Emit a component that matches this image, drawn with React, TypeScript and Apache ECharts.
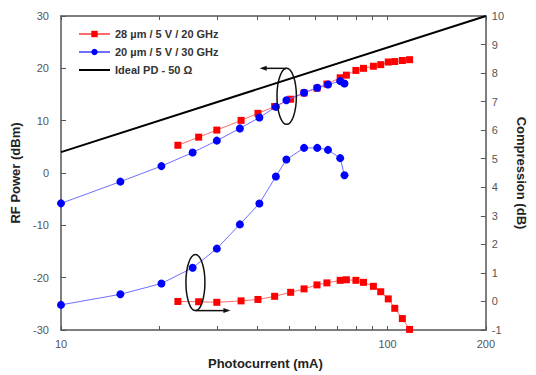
import React, { useEffect, useRef } from "react";
import * as echarts from "echarts";

const FONT = "'Liberation Sans', Arial, Helvetica, sans-serif";

// Photocurrent (mA)
const redX = [22.8, 26.4, 30.0, 35.6, 40.1, 45.1, 50.5, 55.5, 60.8, 65.2, 71.6, 74.8, 80.0, 84.4, 90.5, 95.3, 100.5, 105.2, 111.0, 116.8];
// RF power (dBm), 28 µm device
const redPower = [5.3, 6.85, 8.2, 10.05, 11.4, 12.7, 14.1, 15.3, 16.2, 17.0, 18.2, 18.7, 19.6, 20.0, 20.4, 20.7, 21.2, 21.3, 21.5, 21.65];
// Compression (dB), 28 µm device
const redComp = [0.0, -0.01, -0.03, 0.02, 0.07, 0.18, 0.32, 0.44, 0.58, 0.65, 0.74, 0.76, 0.74, 0.67, 0.53, 0.34, 0.09, -0.24, -0.6, -0.98];

const blueX = [10.0, 15.2, 20.3, 25.3, 30.0, 35.3, 40.5, 45.5, 49.0, 55.5, 60.9, 65.7, 71.6, 73.8];
const bluePower = [-5.8, -1.65, 1.32, 3.91, 6.18, 8.52, 10.6, 12.63, 13.9, 15.35, 16.3, 16.9, 17.55, 17.1];
const blueComp = [-0.12, 0.25, 0.63, 1.18, 1.85, 2.7, 3.43, 4.38, 4.97, 5.38, 5.38, 5.31, 5.02, 4.42];

const idealX = [10, 200];
const idealPower = [3.98, 30];

const xTicks = [10, 20, 30, 40, 50, 60, 70, 80, 90, 100, 200];
const xLabels = [10, 100, 200];

const NAME_RED = "28 µm / 5 V / 20 GHz";
const NAME_BLUE = "20 µm / 5 V / 30 GHz";
const NAME_IDEAL = "Ideal PD - 50 Ω";

const zip = (xs: number[], ys: number[]) => xs.map((x, i) => [x, ys[i]]);

export default function App() {
  const ref = useRef<HTMLDivElement>(null);
  useEffect(() => {
    const chart = echarts.init(ref.current!, null, { renderer: "svg" });
    const axisColor = "#555";
    const labelStyle = { fontFamily: FONT, fontSize: 11, color: "#555" };
    const nameStyle = { fontFamily: FONT, fontSize: 13, fontWeight: "bold", color: "#222" };
    const option: any = {
      animation: false,
      backgroundColor: "#fff",
      grid: { left: 61, right: 44, top: 16, bottom: 42 },
      legend: {
        orient: "vertical",
        left: 73,
        top: 23,
        itemWidth: 31,
        itemHeight: 8,
        itemGap: 6,
        textStyle: { fontFamily: FONT, fontSize: 11, fontWeight: "bold", color: "#333", lineHeight: 12 },
        data: [NAME_RED, NAME_BLUE, NAME_IDEAL],
      },
      xAxis: [
        {
          type: "log",
          logBase: 10,
          min: 10,
          max: 200,
          name: "Photocurrent (mA)",
          nameLocation: "middle",
          nameGap: 27,
          nameTextStyle: { ...nameStyle, padding: [0, 16, 0, 0] },
          axisLine: { onZero: false, lineStyle: { color: axisColor, width: 1.5 } },
          axisTick: { inside: true, length: 4, customValues: xTicks, lineStyle: { color: axisColor } },
          axisLabel: { ...labelStyle, margin: 8, customValues: xLabels },
          splitLine: { show: false },
          minorTick: { show: false },
        },
        {
          type: "log",
          logBase: 10,
          min: 10,
          max: 200,
          position: "top",
          axisLine: { onZero: false, lineStyle: { color: axisColor, width: 1.5 } },
          axisTick: { inside: true, length: 4, customValues: xTicks, lineStyle: { color: axisColor } },
          axisLabel: { show: false },
          splitLine: { show: false },
        },
      ],
      yAxis: [
        {
          type: "value",
          min: -30,
          max: 30,
          interval: 10,
          name: "RF Power (dBm)",
          nameLocation: "middle",
          nameGap: 25,
          nameRotate: 90,
          nameTextStyle: nameStyle,
          axisLine: { show: true, onZero: false, lineStyle: { color: axisColor, width: 1.5 } },
          axisTick: { show: true, inside: true, length: 5, lineStyle: { color: axisColor } },
          axisLabel: { ...labelStyle, margin: 12 },
          splitLine: { show: false },
        },
        {
          type: "value",
          min: -1,
          max: 10,
          interval: 1,
          position: "right",
          name: "Compression (dB)",
          nameLocation: "middle",
          nameGap: 26,
          nameRotate: -90,
          nameTextStyle: nameStyle,
          axisLine: { show: true, onZero: false, lineStyle: { color: axisColor, width: 1.5 } },
          axisTick: { show: true, inside: true, length: 5, lineStyle: { color: axisColor } },
          axisLabel: { ...labelStyle, margin: 6 },
          splitLine: { show: false },
        },
      ],
      series: [
        {
          name: NAME_RED,
          type: "line",
          xAxisIndex: 0,
          yAxisIndex: 0,
          data: zip(redX, redPower),
          symbol: "rect",
          symbolSize: 7,
          itemStyle: { color: "#ff0000" },
          lineStyle: { color: "#ff6b6b", width: 1 },
          z: 3,
        },
        {
          name: NAME_BLUE,
          type: "line",
          xAxisIndex: 0,
          yAxisIndex: 0,
          data: zip(blueX, bluePower),
          symbol: "circle",
          symbolSize: 8,
          itemStyle: { color: "#0000ff" },
          lineStyle: { color: "#6f6fff", width: 1 },
          z: 4,
        },
        {
          name: NAME_IDEAL,
          type: "line",
          xAxisIndex: 0,
          yAxisIndex: 0,
          data: zip(idealX, idealPower),
          symbol: "circle",
          showSymbol: false,
          itemStyle: { color: "rgba(0,0,0,0)" },
          lineStyle: { color: "#000", width: 2 },
          z: 2,
        },
        {
          name: NAME_RED,
          type: "line",
          xAxisIndex: 0,
          yAxisIndex: 1,
          data: zip(redX, redComp),
          symbol: "rect",
          symbolSize: 7,
          clip: false,
          itemStyle: { color: "#ff0000" },
          lineStyle: { color: "#ff6b6b", width: 1 },
          z: 3,
        },
        {
          name: NAME_BLUE,
          type: "line",
          xAxisIndex: 0,
          yAxisIndex: 1,
          data: zip(blueX, blueComp),
          symbol: "circle",
          symbolSize: 8,
          clip: false,
          itemStyle: { color: "#0000ff" },
          lineStyle: { color: "#6f6fff", width: 1 },
          z: 4,
        },
      ],
    };
    chart.setOption(option);

    // Annotation ellipses anchored in data coordinates
    const p1 = chart.convertToPixel({ xAxisIndex: 0, yAxisIndex: 0 }, [49.1, 14.65]) as number[];
    const p2 = chart.convertToPixel({ xAxisIndex: 0, yAxisIndex: 1 }, [25.8, 0.66]) as number[];
    const stroke = { fill: "none", stroke: "#111", lineWidth: 1.5 };
    const rx = 9.7;
    const ry = 28;
    const a1y = p1[1] - ry;
    const a1x = p1[0] - 27;
    const a2y = p2[1] + ry;
    const a2x = p2[0] + 35;
    chart.setOption({
      graphic: [
        { type: "ellipse", shape: { cx: p1[0], cy: p1[1], rx, ry }, style: stroke, z: 10 },
        { type: "line", shape: { x1: p1[0], y1: a1y, x2: a1x + 4, y2: a1y }, style: { stroke: "#111", lineWidth: 1.5 }, z: 10 },
        { type: "polygon", shape: { points: [[a1x, a1y], [a1x + 7, a1y - 2.5], [a1x + 7, a1y + 2.5]] }, style: { fill: "#111" }, z: 10 },
        { type: "ellipse", shape: { cx: p2[0], cy: p2[1], rx: 9.5, ry }, style: stroke, z: 10 },
        { type: "line", shape: { x1: p2[0], y1: a2y, x2: a2x - 4, y2: a2y }, style: { stroke: "#111", lineWidth: 1.5 }, z: 10 },
        { type: "polygon", shape: { points: [[a2x, a2y], [a2x - 7, a2y - 2.5], [a2x - 7, a2y + 2.5]] }, style: { fill: "#111" }, z: 10 },
      ],
    });
    return () => chart.dispose();
  }, []);
  return <div ref={ref} style={{ position: "fixed", left: 0, top: 0, width: 536, height: 375 }} />;
}
